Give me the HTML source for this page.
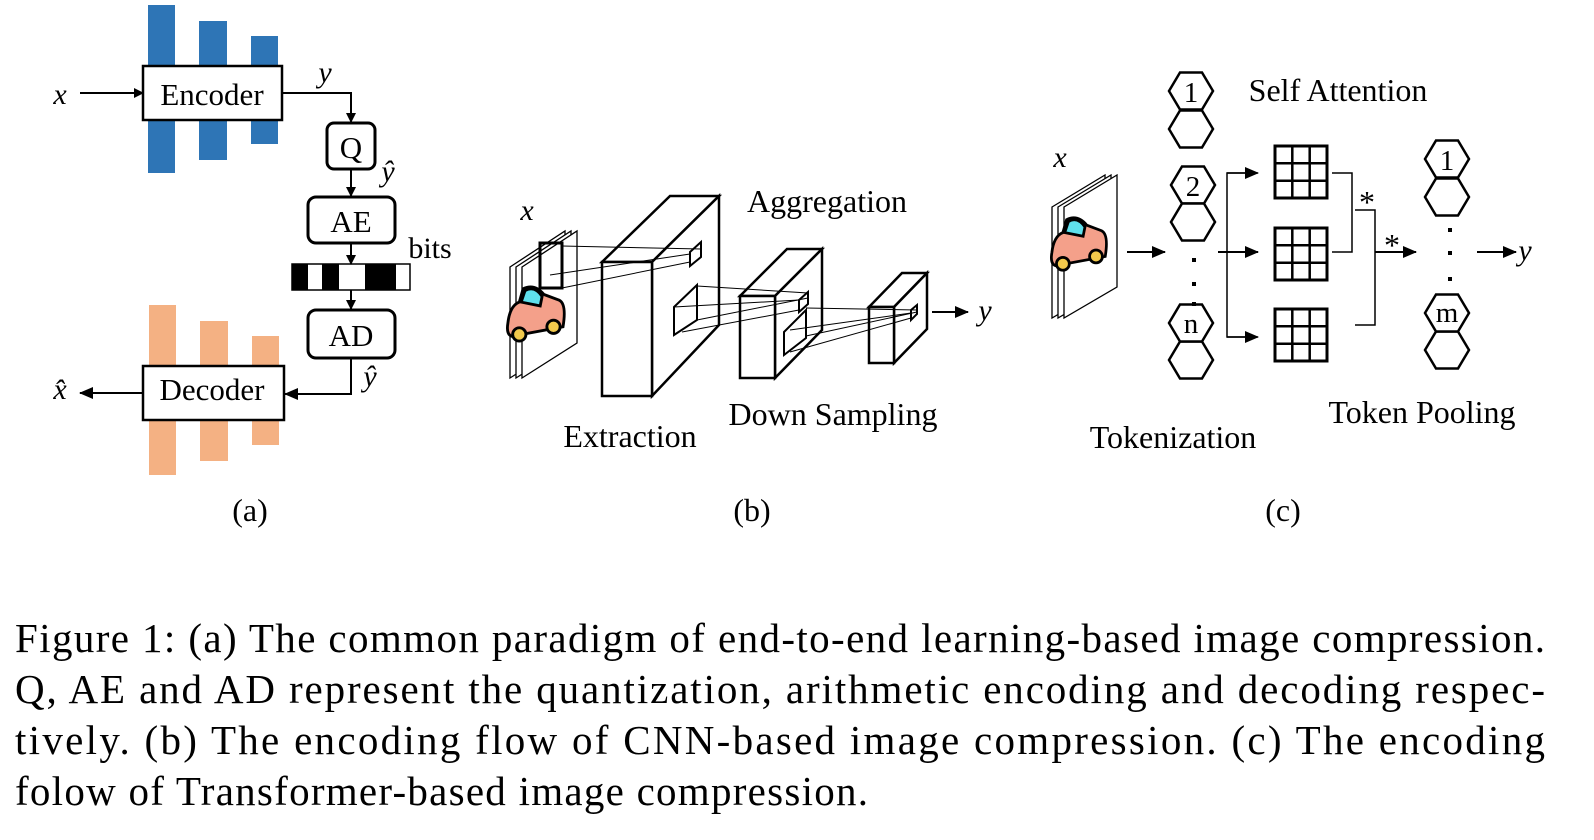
<!DOCTYPE html>
<html><head><meta charset="utf-8"><style>
html,body{margin:0;padding:0;background:#fff;}
svg{display:block;}
text{font-family:"Liberation Serif",serif;fill:#000;}
</style></head><body>
<svg width="1594" height="840" viewBox="0 0 1594 840" xmlns="http://www.w3.org/2000/svg">
<defs>
<marker id="ar" markerWidth="10" markerHeight="10" refX="9" refY="5" orient="auto" markerUnits="userSpaceOnUse">
<path d="M0,0 L10,5 L0,10 z" fill="#000"/></marker>
<marker id="ars" markerWidth="14" markerHeight="12" refX="13" refY="6" orient="auto" markerUnits="userSpaceOnUse">
<path d="M0,0 L14,6 L0,12 z" fill="#000"/></marker>
<g id="car">
<path d="M2,40 Q4,22 14,18 L18,4 Q30,-2 40,10 L56,16 Q64,20 60,44 L6,54 Q0,52 2,40 z" fill="#f4a08a" stroke="#000" stroke-width="3"/>
<path d="M16,18 L20,6 Q30,0 38,12 L36,22 z" fill="#5fe0ec" stroke="#000" stroke-width="3"/>
<circle cx="14" cy="52" r="7" fill="#f2c94c" stroke="#000" stroke-width="3"/>
<circle cx="50" cy="44" r="7" fill="#f2c94c" stroke="#000" stroke-width="3"/>
</g>
<polygon id="hex" points="-22,0 -11,-18.5 11,-18.5 22,0 11,18.5 -11,18.5" fill="#fff" stroke="#000" stroke-width="2.5"/>
<g id="grid">
<rect x="0" y="0" width="52" height="52" fill="none" stroke="#000" stroke-width="3"/>
<path d="M17.3,0V52M34.7,0V52M0,17.3H52M0,34.7H52" stroke="#000" stroke-width="2.5"/>
</g>
</defs>

<!-- Panel (a) -->
<g fill="#2e75b6">
<rect x="148" y="5" width="27" height="168"/>
<rect x="199" y="21" width="28" height="139"/>
<rect x="251" y="36" width="27" height="108"/>
</g>
<g fill="#f4b183">
<rect x="149" y="305" width="27" height="170"/>
<rect x="200" y="321" width="28" height="140"/>
<rect x="252" y="336" width="27" height="109"/>
</g>
<rect x="143" y="66" width="139" height="54" fill="#fff" stroke="#000" stroke-width="2.5"/>
<text x="212" y="105" font-size="31" text-anchor="middle">Encoder</text>
<rect x="143" y="366" width="141" height="54" fill="#fff" stroke="#000" stroke-width="2.5"/>
<text x="212" y="400" font-size="31" text-anchor="middle">Decoder</text>
<text x="60" y="104" font-size="30" font-style="italic" text-anchor="middle">x</text>
<line x1="80" y1="93" x2="143" y2="93" stroke="#000" stroke-width="2" marker-end="url(#ar)"/>
<polyline points="282,93 351,93 351,122" fill="none" stroke="#000" stroke-width="2" marker-end="url(#ar)"/>
<text x="325" y="82" font-size="30" font-style="italic" text-anchor="middle">y</text>
<rect x="327" y="123" width="48" height="46" rx="7" fill="#fff" stroke="#000" stroke-width="3"/>
<text x="351" y="158" font-size="31" text-anchor="middle">Q</text>
<text x="388" y="181" font-size="30" font-style="italic" text-anchor="middle">ŷ</text>
<line x1="351" y1="169" x2="351" y2="196" stroke="#000" stroke-width="2" marker-end="url(#ar)"/>
<rect x="308" y="197" width="87" height="46" rx="8" fill="#fff" stroke="#000" stroke-width="3"/>
<text x="351" y="232" font-size="31" text-anchor="middle">AE</text>
<text x="430" y="258" font-size="30" text-anchor="middle">bits</text>
<rect x="292" y="264" width="118" height="26" fill="#fff" stroke="#000" stroke-width="1.5"/>
<g fill="#000">
<rect x="292" y="264" width="16" height="26"/>
<rect x="322" y="264" width="17" height="26"/>
<rect x="365" y="264" width="31" height="26"/>
</g>
<line x1="351" y1="243" x2="351" y2="264" stroke="#000" stroke-width="2" marker-end="url(#ar)"/>
<line x1="351" y1="290" x2="351" y2="309" stroke="#000" stroke-width="2" marker-end="url(#ar)"/>
<rect x="308" y="310" width="87" height="48" rx="8" fill="#fff" stroke="#000" stroke-width="3"/>
<text x="351" y="346" font-size="31" text-anchor="middle">AD</text>
<polyline points="351,358 351,394 285,394" fill="none" stroke="#000" stroke-width="2" marker-end="url(#ars)"/>
<text x="370" y="386" font-size="30" font-style="italic" text-anchor="middle">ŷ</text>
<line x1="143" y1="393" x2="80" y2="393" stroke="#000" stroke-width="2" marker-end="url(#ars)"/>
<text x="60" y="399" font-size="30" font-style="italic" text-anchor="middle">x̂</text>
<text x="250" y="521" font-size="32" text-anchor="middle">(a)</text>

<!-- Panel (b) -->
<text x="527" y="220" font-size="30" font-style="italic" text-anchor="middle">x</text>
<g fill="#fff" stroke="#000" stroke-width="1.3">
<polygon points="510,267 565,231 565,343 510,378"/>
<polygon points="516,267 571,231 571,343 516,378"/>
<polygon points="522,267 577,231 577,343 522,378"/>
</g>
<use href="#car" transform="translate(506,285) scale(0.95)"/>
<rect x="540" y="243" width="22" height="45" fill="none" stroke="#000" stroke-width="3"/>
<g fill="#fff" stroke="#000" stroke-width="2.5">
<polygon points="602,262 670,196 719,196 652,262"/>
<polygon points="652,262 719,196 719,325 652,396"/>
<rect x="602" y="262" width="50" height="134"/>
<polygon points="740,296 787,249 822,249 775,296"/>
<polygon points="775,296 822,249 822,330 775,378"/>
<rect x="740" y="296" width="35" height="82"/>
<polygon points="869,307 902,273 927,273 894,307"/>
<polygon points="894,307 927,273 927,329 894,363"/>
<rect x="869" y="307" width="25" height="56"/>
</g>
<g fill="none" stroke="#000" stroke-width="2">
<polygon points="690,252 701,242 701,257 690,266"/>
<polygon points="674,307 697,285 697,320 674,335"/>
<polygon points="799,300 808,292 808,304 799,312"/>
<polygon points="784,332 806,310 806,338 784,355"/>
<polygon points="911,310 917,305 917,314 911,320"/>
</g>
<g stroke="#000" stroke-width="1" fill="none">
<line x1="562" y1="246" x2="701" y2="249"/>
<line x1="550" y1="275" x2="690" y2="254"/>
<line x1="562" y1="288" x2="690" y2="262"/>
<line x1="697" y1="286" x2="808" y2="293"/>
<line x1="674" y1="307" x2="799" y2="300"/>
<line x1="697" y1="320" x2="808" y2="298"/>
<line x1="682" y1="332" x2="799" y2="310"/>
<line x1="806" y1="308" x2="917" y2="310"/>
<line x1="790" y1="330" x2="911" y2="313"/>
<line x1="806" y1="336" x2="917" y2="312"/>
<line x1="790" y1="352" x2="911" y2="318"/>
</g>
<line x1="932" y1="312" x2="968" y2="312" stroke="#000" stroke-width="2" marker-end="url(#ars)"/>
<text x="985" y="320" font-size="30" font-style="italic" text-anchor="middle">y</text>
<text x="827" y="212" font-size="32" text-anchor="middle">Aggregation</text>
<text x="833" y="425" font-size="32" text-anchor="middle">Down Sampling</text>
<text x="630" y="447" font-size="32" text-anchor="middle">Extraction</text>
<text x="752" y="521" font-size="32" text-anchor="middle">(b)</text>

<!-- Panel (c) -->
<text x="1060" y="167" font-size="30" font-style="italic" text-anchor="middle">x</text>
<g fill="#fff" stroke="#000" stroke-width="1.3">
<polygon points="1052,207 1105,175 1105,287 1052,318"/>
<polygon points="1058,207 1111,175 1111,287 1058,318"/>
<polygon points="1064,207 1117,175 1117,287 1064,318"/>
</g>
<use href="#car" transform="translate(1050,216) scale(0.92)"/>
<line x1="1127" y1="252" x2="1165" y2="252" stroke="#000" stroke-width="2" marker-end="url(#ars)"/>
<use href="#hex" x="1191" y="91"/><use href="#hex" x="1191" y="129"/>
<use href="#hex" x="1193" y="185"/><use href="#hex" x="1193" y="222"/>
<use href="#hex" x="1191" y="360"/><use href="#hex" x="1191" y="323"/>
<text x="1191" y="102" font-size="29" text-anchor="middle">1</text>
<text x="1193" y="196" font-size="29" text-anchor="middle">2</text>
<text x="1191" y="333" font-size="29" text-anchor="middle">n</text>
<g fill="#000"><rect x="1192" y="258" width="4" height="4"/><rect x="1192" y="282" width="4" height="4"/><rect x="1192" y="302" width="4" height="4"/></g>
<polyline points="1257,173 1227,173 1227,337 1257,337" fill="none" stroke="#000" stroke-width="1.5"/>
<line x1="1218" y1="252" x2="1258" y2="252" stroke="#000" stroke-width="2" marker-end="url(#ars)"/>
<line x1="1227" y1="173" x2="1258" y2="173" stroke="#000" stroke-width="1.5" marker-end="url(#ars)"/>
<line x1="1227" y1="337" x2="1258" y2="337" stroke="#000" stroke-width="1.5" marker-end="url(#ars)"/>
<use href="#grid" x="1275" y="146"/><use href="#grid" x="1275" y="228"/><use href="#grid" x="1275" y="309"/>
<polyline points="1332,173 1352,173 1352,252 1332,252" fill="none" stroke="#000" stroke-width="1.5"/>
<polyline points="1355,210 1375,210 1375,325 1355,325" fill="none" stroke="#000" stroke-width="1.5"/>
<text x="1367" y="213" font-size="32" text-anchor="middle">*</text>
<text x="1392" y="256" font-size="32" text-anchor="middle">*</text>
<line x1="1375" y1="252" x2="1416" y2="252" stroke="#000" stroke-width="2" marker-end="url(#ars)"/>
<use href="#hex" x="1447" y="159"/><use href="#hex" x="1447" y="197"/>
<use href="#hex" x="1447" y="350"/><use href="#hex" x="1447" y="313"/>
<text x="1447" y="170" font-size="29" text-anchor="middle">1</text>
<text x="1447" y="322" font-size="29" text-anchor="middle">m</text>
<g fill="#000"><rect x="1448" y="228" width="4" height="4"/><rect x="1448" y="251" width="4" height="4"/><rect x="1448" y="277" width="4" height="4"/></g>
<line x1="1477" y1="252" x2="1516" y2="252" stroke="#000" stroke-width="2" marker-end="url(#ars)"/>
<text x="1525" y="260" font-size="30" font-style="italic" text-anchor="middle">y</text>
<text x="1338" y="101" font-size="32" text-anchor="middle">Self Attention</text>
<text x="1173" y="448" font-size="32" text-anchor="middle">Tokenization</text>
<text x="1422" y="423" font-size="32" text-anchor="middle">Token Pooling</text>
<text x="1283" y="521" font-size="32" text-anchor="middle">(c)</text>

<!-- Caption -->
<g font-size="41">
<text x="15" y="652" textLength="1530" lengthAdjust="spacing">Figure 1: (a) The common paradigm of end-to-end learning-based image compression.</text>
<text x="15" y="703" textLength="1530" lengthAdjust="spacing">Q, AE and AD represent the quantization, arithmetic encoding and decoding respec-</text>
<text x="15" y="754" textLength="1530" lengthAdjust="spacing">tively.  (b) The encoding flow of CNN-based image compression.  (c) The encoding</text>
<text x="15" y="805" textLength="853" lengthAdjust="spacing">folow of Transformer-based image compression.</text>
</g>
</svg>
</body></html>
